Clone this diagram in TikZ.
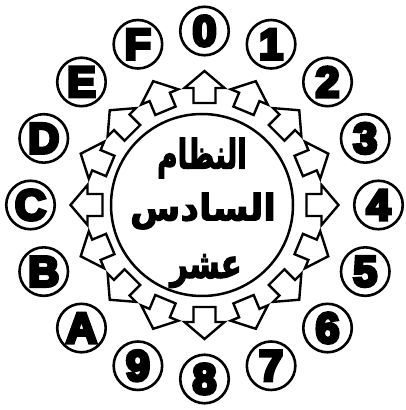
\documentclass[tikz,border=0pt]{standalone}
\usepackage{fontspec}
\usetikzlibrary{calc}
\TeXXeTstate=1
\newfontfamily\arabicfont[Script=Arabic,FakeBold=3]{DejaVu Sans Bold}
\newfontfamily\digitfont[FakeBold=8]{Liberation Sans Bold}
\tikzset{
  numcirc/.style={circle, draw, line width=2.6pt, minimum size=48.5pt, inner sep=0pt,
    font=\digitfont\fontsize{43}{43}\selectfont},
  blockarrow/.style={draw, line width=2.4pt, fill=white, line join=miter},
  hub/.style={draw, line width=2.5pt},
  artext/.style={font=\arabicfont\fontsize{28}{28}\selectfont, inner sep=0pt}
}
\begin{document}
\begin{tikzpicture}[x=1pt,y=1pt]
\useasboundingbox (0,0) rectangle (406,410);
\coordinate (ctr) at (204.5,205);
% central circle
\draw[hub] (202,205) circle (91);
% arrows
\foreach \i in {0,...,15}{
  \pgfmathsetmacro{\ang}{90-22.5*\i}
  \begin{scope}[shift={(ctr)}, rotate=\ang]
    \draw[blockarrow] (102,-11) -- (117,-11) -- (117,-20) -- (134,0) -- (117,20) -- (117,11) -- (102,11) -- cycle;
  \end{scope}
}
% numbered circles
\foreach \i/\t in {0/0,1/1,2/2,3/3,4/4,5/5,6/6,7/7,8/8,9/9,10/A,11/B,12/C,13/D,14/E,15/F}{
  \pgfmathsetmacro{\ang}{90-22.5*\i}
  \node[numcirc] (c\t) at ($(ctr)+(\ang:174)$) {\t};
}
% Arabic text
\node[artext] (t1) at (202,252) {\scalebox{1}[1.45]{\beginR النظام\endR}};
\node[artext] (t2) at (203,199) {\scalebox{1.3}[1.3]{\beginR السادس\endR}};
\node[artext] (t3) at (206,139) {\scalebox{1.1}[1.45]{\beginR عشر\endR}};
\end{tikzpicture}
\end{document}
